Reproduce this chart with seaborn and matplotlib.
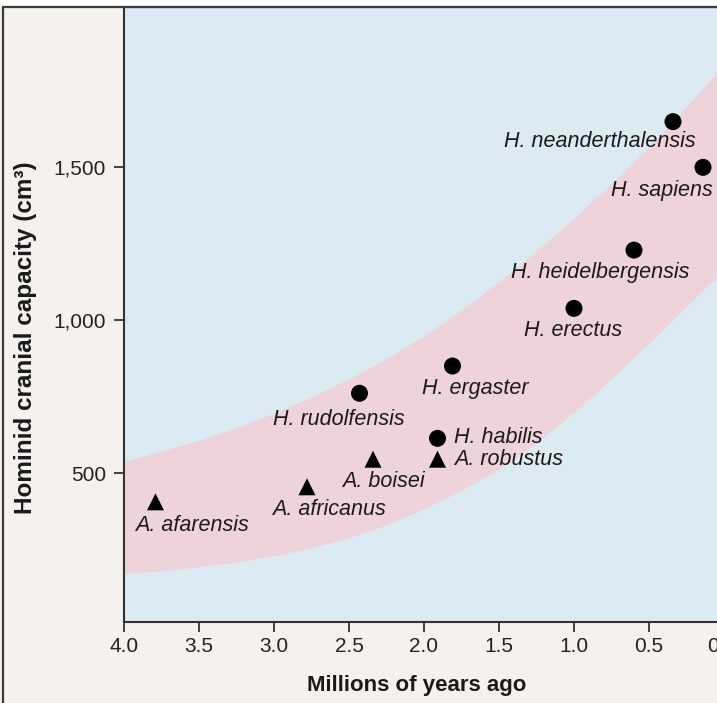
import pandas as pd
import matplotlib.pyplot as plt
import matplotlib.transforms as mtransforms
from matplotlib.lines import Line2D
from matplotlib.patches import Rectangle
import seaborn as sns

# data
species = ["A. afarensis", "A. africanus", "A. boisei", "A. robustus", "H. habilis",
           "H. rudolfensis", "H. ergaster", "H. erectus", "H. heidelbergensis",
           "H. neanderthalensis", "H. sapiens"]
genus = ["Australopithecus"] * 4 + ["Homo"] * 7
mya = [3.79, 2.78, 2.34, 1.91, 1.91, 2.43, 1.81, 1.0, 0.6, 0.34, 0.14]
capacity = [407, 456, 546, 546, 614, 761, 850, 1038, 1228, 1647, 1498]

# pink band (range of cranial capacity), edges read every 0.25 Myr
band_mya = [4.0, 3.75, 3.5, 3.25, 3.0, 2.75, 2.5, 2.25, 2.0,
            1.75, 1.5, 1.25, 1.0, 0.75, 0.5, 0.25, 0.0]
band_low = [172, 182, 195, 211, 231, 257, 290, 332, 384,
            444, 514, 599, 699, 809, 924, 1044, 1164]
band_high = [540, 572, 608, 649, 696, 749, 808, 874, 949,
             1033, 1126, 1226, 1332, 1445, 1566, 1696, 1834]

x_ticks = [4.0, 3.5, 3.0, 2.5, 2.0, 1.5, 1.0, 0.5, 0.0]
x_ticklabels = ["4.0", "3.5", "3.0", "2.5", "2.0", "1.5", "1.0", "0.5", "0"]
y_ticks = [500, 1000, 1500]
y_ticklabels = ["500", "1,000", "1,500"]

# label placement (pixel offsets from the marker, alignment)
label_pos = {
    "A. afarensis": (36, -24, "center"),
    "A. africanus": (22, -23, "center"),
    "A. boisei": (10, -22, "center"),
    "A. robustus": (17, 0, "left"),
    "H. habilis": (17, 1, "left"),
    "H. rudolfensis": (-21, -26, "center"),
    "H. ergaster": (23, -22, "center"),
    "H. erectus": (-1, -22, "center"),
    "H. heidelbergensis": (-34, -22, "center"),
    "H. neanderthalensis": (-73, -20, "center"),
    "H. sapiens": (-41, -23, "center"),
}

df = pd.DataFrame({"species": species, "genus": genus, "mya": mya, "capacity": capacity})

sns.set_style("ticks")
plt.rcParams["font.family"] = ["Liberation Sans", "DejaVu Sans"]

W, H = 717, 703
fig = plt.figure(figsize=(W / 100, H / 100), dpi=100, facecolor="#f5f2ed")
ax = fig.add_axes([124 / W, 81 / H, 600 / W, 615 / H])
ax.set_facecolor("#dbeaf3")

# white strip and outer frame
fig.patches.append(Rectangle((0, 696 / H), 1, 7 / H, transform=fig.transFigure,
                             facecolor="white", edgecolor="none", zorder=0))
fig.add_artist(Line2D([3 / W, 3 / W], [0, 696 / H], color="#3a3a3a", lw=1.6))
fig.add_artist(Line2D([3 / W, 1], [696 / H, 696 / H], color="#3a3a3a", lw=1.6))

ax.fill_between(band_mya, band_low, band_high, color="#eed4da", lw=0, zorder=1)

sns.scatterplot(data=df, x="mya", y="capacity", style="genus",
                markers={"Australopithecus": "^", "Homo": "o"},
                color="black", s=150, edgecolor="none", legend=False,
                ax=ax, zorder=3)

for name, x, y in zip(species, mya, capacity):
    dx, dy, ha = label_pos[name]
    ax.annotate(name, (x, y), xytext=(dx, dy), textcoords="offset pixels",
                ha=ha, va="center", fontsize=15.5, style="italic", color="#1a1a1a")

ax.set_xlim(4.0, 0.0)
ax.set_ylim(15, 2021)
ax.set_xticks(x_ticks)
ax.set_xticklabels(x_ticklabels)
ax.set_yticks(y_ticks)
ax.set_yticklabels(y_ticklabels)
ax.tick_params(direction="out", length=7.5, width=1.3, color="#333333",
               labelsize=15, pad=5.5, labelcolor="#222222")
ax.tick_params(axis="x", pad=3.5)

for side in ["left", "bottom", "top"]:
    ax.spines[side].set_color("#333333")
    ax.spines[side].set_linewidth(1.5)
ax.spines["right"].set_visible(False)

# last tick label sits partly outside the cropped figure
last = ax.get_xticklabels()[-1]
last.set_transform(last.get_transform()
                   + mtransforms.ScaledTranslation(-0.11, 0, fig.dpi_scale_trans))

ax.set_xlabel("Millions of years ago", fontsize=16, fontweight="bold", color="#1a1a1a")
ax.xaxis.set_label_coords((416.5 - 124) / 600, (622 - 686) / 615)
ax.xaxis.label.set_va("center")
ax.set_ylabel("Hominid cranial capacity (cm³)", fontsize=17.5, fontweight="bold",
              color="#1a1a1a")
ax.yaxis.set_label_coords((26 - 124) / 600, (622 - 338) / 615)
ax.yaxis.label.set_va("center")

fig.savefig("out.png", dpi=100, facecolor=fig.get_facecolor())
